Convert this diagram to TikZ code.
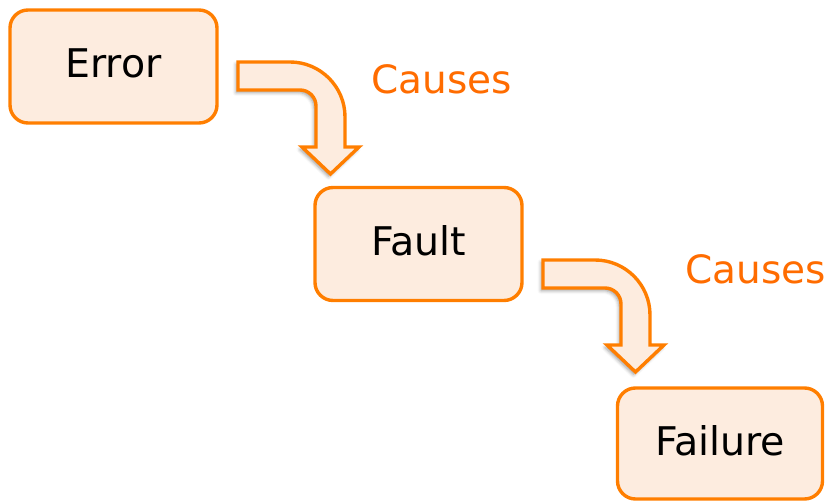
\documentclass[tikz,border=0pt]{standalone}
\usepackage{fontspec}
\setmainfont{DejaVu Sans}
\usetikzlibrary{shadows.blur}
\definecolor{orng}{HTML}{FF7E00}
\definecolor{peach}{HTML}{FDECDF}
\definecolor{causetxt}{HTML}{FF6C00}
\tikzset{
  stagebox/.style={draw=orng, fill=peach, line width=3.4pt, rounded corners=18pt,
    minimum width=207pt, minimum height=113pt, inner sep=0pt,
    font=\fontsize{39.5}{46}\selectfont, text height=33pt, text depth=10pt},
  causelabel/.style={text=causetxt, inner sep=0pt, anchor=base west,
    font=\fontsize{39}{46}\selectfont},
  bentarrow/.pic={
    \draw[draw=orng, fill=peach, line width=3.4pt, line join=miter,
      blur shadow={shadow xshift=-2pt, shadow yshift=-2.5pt,
        shadow blur radius=3.5pt, shadow opacity=40}]
      (0,0) -- (52,0) arc[start angle=90, end angle=0, radius=55]
      -- (107,-85) -- (121,-85) -- (92.5,-112) -- (64,-85) -- (78,-85)
      -- (78,-44) arc[start angle=0, end angle=90, radius=16]
      -- (0,-28) -- cycle;
  }
}
\begin{document}
\begin{tikzpicture}[x=1pt, y=1pt]
  \useasboundingbox (0,0) rectangle (827,-502);

  % the three stages
  \node[stagebox] (err) at (113.5,-66.5) {Error};
  \node[stagebox] (flt) at (418.5,-244) {Fault};
  \node[stagebox, minimum width=205pt, minimum height=111pt] (fail) at (720,-443.5) {Failure};

  % bent block arrows between the stages
  \pic (arr1) at (238,-62) {bentarrow};
  \pic (arr2) at (543,-260) {bentarrow};

  % arrow captions
  \node[causelabel] (c1) at (371,-94) {Causes};
  \node[causelabel] (c2) at (685,-284) {Causes};
\end{tikzpicture}
\end{document}
